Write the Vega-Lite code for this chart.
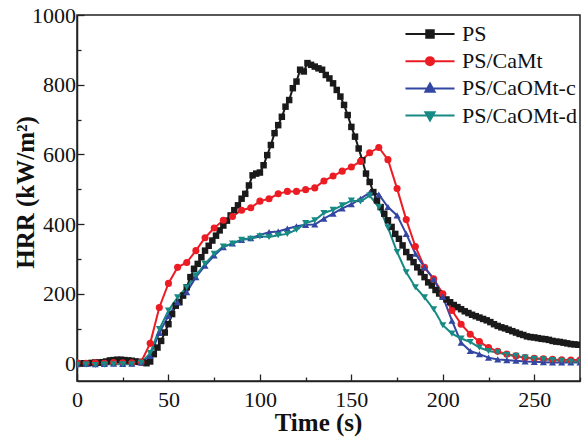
{
  "$schema": "https://vega.github.io/schema/vega-lite/v6.json",
  "autosize": "none",
  "width": 503,
  "height": 366,
  "padding": {"left": 77, "top": 15, "right": 3, "bottom": 58},
  "config": {
    "view": {"stroke": "#222", "strokeWidth": 1.5},
    "font": "Times New Roman",
    "axis": {
      "domainColor": "#222",
      "domainWidth": 1.5,
      "tickColor": "#222",
      "tickWidth": 1.3,
      "grid": false,
      "labelFont": "Times New Roman",
      "labelFontSize": 22,
      "labelColor": "#111",
      "titleFont": "Times New Roman",
      "titleFontSize": 25,
      "titleFontWeight": "bold",
      "titleColor": "#111"
    },
    "legend": {
      "labelFont": "Times New Roman",
      "labelFontSize": 22,
      "labelColor": "#111"
    }
  },
  "data": {
    "values": [
      {"s": "PS", "t": 0, "v": 0}, {"s": "PS", "t": 2, "v": 0}, {"s": "PS", "t": 4, "v": 1}, {"s": "PS", "t": 6, "v": 1},
      {"s": "PS", "t": 8, "v": 2}, {"s": "PS", "t": 10, "v": 3}, {"s": "PS", "t": 12, "v": 3}, {"s": "PS", "t": 14, "v": 4},
      {"s": "PS", "t": 16, "v": 6}, {"s": "PS", "t": 18, "v": 9}, {"s": "PS", "t": 20, "v": 10}, {"s": "PS", "t": 22, "v": 11},
      {"s": "PS", "t": 24, "v": 11}, {"s": "PS", "t": 26, "v": 10}, {"s": "PS", "t": 28, "v": 9}, {"s": "PS", "t": 30, "v": 8},
      {"s": "PS", "t": 32, "v": 6}, {"s": "PS", "t": 34, "v": 5}, {"s": "PS", "t": 36, "v": 3}, {"s": "PS", "t": 38, "v": 1},
      {"s": "PS", "t": 40, "v": 6}, {"s": "PS", "t": 42, "v": 27}, {"s": "PS", "t": 44, "v": 46}, {"s": "PS", "t": 46, "v": 65},
      {"s": "PS", "t": 48, "v": 89}, {"s": "PS", "t": 50, "v": 113}, {"s": "PS", "t": 52, "v": 142}, {"s": "PS", "t": 54, "v": 166},
      {"s": "PS", "t": 56, "v": 176}, {"s": "PS", "t": 58, "v": 195}, {"s": "PS", "t": 60, "v": 219}, {"s": "PS", "t": 62, "v": 248},
      {"s": "PS", "t": 64, "v": 272}, {"s": "PS", "t": 66, "v": 286}, {"s": "PS", "t": 68, "v": 305}, {"s": "PS", "t": 70, "v": 324},
      {"s": "PS", "t": 72, "v": 338}, {"s": "PS", "t": 74, "v": 353}, {"s": "PS", "t": 76, "v": 367}, {"s": "PS", "t": 78, "v": 382},
      {"s": "PS", "t": 80, "v": 396}, {"s": "PS", "t": 82, "v": 410}, {"s": "PS", "t": 84, "v": 425}, {"s": "PS", "t": 86, "v": 440},
      {"s": "PS", "t": 88, "v": 454}, {"s": "PS", "t": 90, "v": 473}, {"s": "PS", "t": 92, "v": 487}, {"s": "PS", "t": 94, "v": 511},
      {"s": "PS", "t": 96, "v": 540}, {"s": "PS", "t": 98, "v": 545}, {"s": "PS", "t": 100, "v": 548}, {"s": "PS", "t": 102, "v": 569},
      {"s": "PS", "t": 104, "v": 598}, {"s": "PS", "t": 106, "v": 627}, {"s": "PS", "t": 108, "v": 661}, {"s": "PS", "t": 110, "v": 684},
      {"s": "PS", "t": 112, "v": 708}, {"s": "PS", "t": 114, "v": 737}, {"s": "PS", "t": 116, "v": 756}, {"s": "PS", "t": 118, "v": 790},
      {"s": "PS", "t": 120, "v": 809}, {"s": "PS", "t": 122, "v": 843}, {"s": "PS", "t": 124, "v": 838}, {"s": "PS", "t": 126, "v": 862},
      {"s": "PS", "t": 128, "v": 857}, {"s": "PS", "t": 130, "v": 852}, {"s": "PS", "t": 132, "v": 847}, {"s": "PS", "t": 134, "v": 843},
      {"s": "PS", "t": 136, "v": 828}, {"s": "PS", "t": 138, "v": 818}, {"s": "PS", "t": 140, "v": 804}, {"s": "PS", "t": 142, "v": 785},
      {"s": "PS", "t": 144, "v": 766}, {"s": "PS", "t": 146, "v": 742}, {"s": "PS", "t": 148, "v": 713}, {"s": "PS", "t": 150, "v": 679},
      {"s": "PS", "t": 152, "v": 651}, {"s": "PS", "t": 154, "v": 617}, {"s": "PS", "t": 156, "v": 583}, {"s": "PS", "t": 158, "v": 545},
      {"s": "PS", "t": 160, "v": 521}, {"s": "PS", "t": 162, "v": 492}, {"s": "PS", "t": 164, "v": 468}, {"s": "PS", "t": 166, "v": 449},
      {"s": "PS", "t": 168, "v": 430}, {"s": "PS", "t": 170, "v": 411}, {"s": "PS", "t": 172, "v": 392}, {"s": "PS", "t": 174, "v": 372},
      {"s": "PS", "t": 176, "v": 358}, {"s": "PS", "t": 178, "v": 339}, {"s": "PS", "t": 180, "v": 320}, {"s": "PS", "t": 182, "v": 305},
      {"s": "PS", "t": 184, "v": 291}, {"s": "PS", "t": 186, "v": 276}, {"s": "PS", "t": 188, "v": 262}, {"s": "PS", "t": 190, "v": 248},
      {"s": "PS", "t": 192, "v": 233}, {"s": "PS", "t": 194, "v": 224}, {"s": "PS", "t": 196, "v": 211}, {"s": "PS", "t": 198, "v": 201},
      {"s": "PS", "t": 200, "v": 192}, {"s": "PS", "t": 202, "v": 184}, {"s": "PS", "t": 204, "v": 176}, {"s": "PS", "t": 206, "v": 168},
      {"s": "PS", "t": 208, "v": 162}, {"s": "PS", "t": 210, "v": 156}, {"s": "PS", "t": 212, "v": 150}, {"s": "PS", "t": 214, "v": 145},
      {"s": "PS", "t": 216, "v": 140}, {"s": "PS", "t": 218, "v": 136}, {"s": "PS", "t": 220, "v": 132}, {"s": "PS", "t": 222, "v": 128},
      {"s": "PS", "t": 224, "v": 124}, {"s": "PS", "t": 226, "v": 119}, {"s": "PS", "t": 228, "v": 113}, {"s": "PS", "t": 230, "v": 108},
      {"s": "PS", "t": 232, "v": 104}, {"s": "PS", "t": 234, "v": 101}, {"s": "PS", "t": 236, "v": 97}, {"s": "PS", "t": 238, "v": 93},
      {"s": "PS", "t": 240, "v": 89}, {"s": "PS", "t": 242, "v": 85}, {"s": "PS", "t": 244, "v": 82}, {"s": "PS", "t": 246, "v": 78},
      {"s": "PS", "t": 248, "v": 76}, {"s": "PS", "t": 250, "v": 75}, {"s": "PS", "t": 252, "v": 73}, {"s": "PS", "t": 254, "v": 71},
      {"s": "PS", "t": 256, "v": 70}, {"s": "PS", "t": 258, "v": 68}, {"s": "PS", "t": 260, "v": 65}, {"s": "PS", "t": 262, "v": 63},
      {"s": "PS", "t": 264, "v": 62}, {"s": "PS", "t": 266, "v": 60}, {"s": "PS", "t": 268, "v": 58}, {"s": "PS", "t": 270, "v": 56},
      {"s": "PS", "t": 272, "v": 55}, {"s": "PS", "t": 274, "v": 54},

      {"s": "PS/CaMt", "t": 0, "v": 2}, {"s": "PS/CaMt", "t": 5, "v": 1}, {"s": "PS/CaMt", "t": 10, "v": 2}, {"s": "PS/CaMt", "t": 15, "v": 1},
      {"s": "PS/CaMt", "t": 20, "v": 3}, {"s": "PS/CaMt", "t": 25, "v": 2}, {"s": "PS/CaMt", "t": 30, "v": 2}, {"s": "PS/CaMt", "t": 35, "v": 4},
      {"s": "PS/CaMt", "t": 40, "v": 58}, {"s": "PS/CaMt", "t": 45, "v": 161}, {"s": "PS/CaMt", "t": 50, "v": 230}, {"s": "PS/CaMt", "t": 55, "v": 276},
      {"s": "PS/CaMt", "t": 60, "v": 290}, {"s": "PS/CaMt", "t": 65, "v": 324}, {"s": "PS/CaMt", "t": 70, "v": 361}, {"s": "PS/CaMt", "t": 75, "v": 389},
      {"s": "PS/CaMt", "t": 80, "v": 411}, {"s": "PS/CaMt", "t": 85, "v": 422}, {"s": "PS/CaMt", "t": 90, "v": 440}, {"s": "PS/CaMt", "t": 95, "v": 447},
      {"s": "PS/CaMt", "t": 100, "v": 466}, {"s": "PS/CaMt", "t": 105, "v": 473}, {"s": "PS/CaMt", "t": 110, "v": 487}, {"s": "PS/CaMt", "t": 115, "v": 494},
      {"s": "PS/CaMt", "t": 120, "v": 494}, {"s": "PS/CaMt", "t": 125, "v": 499}, {"s": "PS/CaMt", "t": 130, "v": 504}, {"s": "PS/CaMt", "t": 135, "v": 524},
      {"s": "PS/CaMt", "t": 140, "v": 538}, {"s": "PS/CaMt", "t": 145, "v": 552}, {"s": "PS/CaMt", "t": 150, "v": 564}, {"s": "PS/CaMt", "t": 155, "v": 580},
      {"s": "PS/CaMt", "t": 160, "v": 605}, {"s": "PS/CaMt", "t": 165, "v": 620}, {"s": "PS/CaMt", "t": 170, "v": 585}, {"s": "PS/CaMt", "t": 175, "v": 502},
      {"s": "PS/CaMt", "t": 180, "v": 413}, {"s": "PS/CaMt", "t": 185, "v": 336}, {"s": "PS/CaMt", "t": 190, "v": 276}, {"s": "PS/CaMt", "t": 195, "v": 243},
      {"s": "PS/CaMt", "t": 200, "v": 200}, {"s": "PS/CaMt", "t": 205, "v": 152}, {"s": "PS/CaMt", "t": 210, "v": 113}, {"s": "PS/CaMt", "t": 215, "v": 84},
      {"s": "PS/CaMt", "t": 220, "v": 63}, {"s": "PS/CaMt", "t": 225, "v": 46}, {"s": "PS/CaMt", "t": 230, "v": 35}, {"s": "PS/CaMt", "t": 235, "v": 27},
      {"s": "PS/CaMt", "t": 240, "v": 22}, {"s": "PS/CaMt", "t": 245, "v": 17}, {"s": "PS/CaMt", "t": 250, "v": 15}, {"s": "PS/CaMt", "t": 255, "v": 14},
      {"s": "PS/CaMt", "t": 260, "v": 12}, {"s": "PS/CaMt", "t": 265, "v": 11}, {"s": "PS/CaMt", "t": 270, "v": 10}, {"s": "PS/CaMt", "t": 275, "v": 10},

      {"s": "PS/CaOMt-c", "t": 0, "v": -2}, {"s": "PS/CaOMt-c", "t": 5, "v": -1}, {"s": "PS/CaOMt-c", "t": 10, "v": -2}, {"s": "PS/CaOMt-c", "t": 15, "v": -1},
      {"s": "PS/CaOMt-c", "t": 20, "v": 0}, {"s": "PS/CaOMt-c", "t": 25, "v": -1}, {"s": "PS/CaOMt-c", "t": 30, "v": 0}, {"s": "PS/CaOMt-c", "t": 35, "v": 3},
      {"s": "PS/CaOMt-c", "t": 40, "v": 22}, {"s": "PS/CaOMt-c", "t": 45, "v": 88}, {"s": "PS/CaOMt-c", "t": 50, "v": 137}, {"s": "PS/CaOMt-c", "t": 55, "v": 176},
      {"s": "PS/CaOMt-c", "t": 60, "v": 205}, {"s": "PS/CaOMt-c", "t": 65, "v": 248}, {"s": "PS/CaOMt-c", "t": 70, "v": 281}, {"s": "PS/CaOMt-c", "t": 75, "v": 310},
      {"s": "PS/CaOMt-c", "t": 80, "v": 334}, {"s": "PS/CaOMt-c", "t": 85, "v": 345}, {"s": "PS/CaOMt-c", "t": 90, "v": 355}, {"s": "PS/CaOMt-c", "t": 95, "v": 360},
      {"s": "PS/CaOMt-c", "t": 100, "v": 369}, {"s": "PS/CaOMt-c", "t": 105, "v": 377}, {"s": "PS/CaOMt-c", "t": 110, "v": 379}, {"s": "PS/CaOMt-c", "t": 115, "v": 387},
      {"s": "PS/CaOMt-c", "t": 120, "v": 394}, {"s": "PS/CaOMt-c", "t": 125, "v": 398}, {"s": "PS/CaOMt-c", "t": 130, "v": 399}, {"s": "PS/CaOMt-c", "t": 135, "v": 416},
      {"s": "PS/CaOMt-c", "t": 140, "v": 430}, {"s": "PS/CaOMt-c", "t": 145, "v": 445}, {"s": "PS/CaOMt-c", "t": 150, "v": 457}, {"s": "PS/CaOMt-c", "t": 155, "v": 473},
      {"s": "PS/CaOMt-c", "t": 160, "v": 490}, {"s": "PS/CaOMt-c", "t": 165, "v": 485}, {"s": "PS/CaOMt-c", "t": 170, "v": 449}, {"s": "PS/CaOMt-c", "t": 175, "v": 425},
      {"s": "PS/CaOMt-c", "t": 180, "v": 372}, {"s": "PS/CaOMt-c", "t": 185, "v": 315}, {"s": "PS/CaOMt-c", "t": 190, "v": 276}, {"s": "PS/CaOMt-c", "t": 195, "v": 243},
      {"s": "PS/CaOMt-c", "t": 200, "v": 192}, {"s": "PS/CaOMt-c", "t": 205, "v": 123}, {"s": "PS/CaOMt-c", "t": 210, "v": 60}, {"s": "PS/CaOMt-c", "t": 215, "v": 36},
      {"s": "PS/CaOMt-c", "t": 220, "v": 27}, {"s": "PS/CaOMt-c", "t": 225, "v": 17}, {"s": "PS/CaOMt-c", "t": 230, "v": 12}, {"s": "PS/CaOMt-c", "t": 235, "v": 10},
      {"s": "PS/CaOMt-c", "t": 240, "v": 8}, {"s": "PS/CaOMt-c", "t": 245, "v": 6}, {"s": "PS/CaOMt-c", "t": 250, "v": 5}, {"s": "PS/CaOMt-c", "t": 255, "v": 4},
      {"s": "PS/CaOMt-c", "t": 260, "v": 3}, {"s": "PS/CaOMt-c", "t": 265, "v": 3}, {"s": "PS/CaOMt-c", "t": 270, "v": 3}, {"s": "PS/CaOMt-c", "t": 275, "v": 3},

      {"s": "PS/CaOMt-d", "t": 0, "v": -4}, {"s": "PS/CaOMt-d", "t": 5, "v": -3}, {"s": "PS/CaOMt-d", "t": 10, "v": -4}, {"s": "PS/CaOMt-d", "t": 15, "v": -3},
      {"s": "PS/CaOMt-d", "t": 20, "v": -2}, {"s": "PS/CaOMt-d", "t": 25, "v": -2}, {"s": "PS/CaOMt-d", "t": 30, "v": -2}, {"s": "PS/CaOMt-d", "t": 35, "v": 2},
      {"s": "PS/CaOMt-d", "t": 40, "v": 30}, {"s": "PS/CaOMt-d", "t": 45, "v": 99}, {"s": "PS/CaOMt-d", "t": 50, "v": 152}, {"s": "PS/CaOMt-d", "t": 55, "v": 190},
      {"s": "PS/CaOMt-d", "t": 60, "v": 219}, {"s": "PS/CaOMt-d", "t": 65, "v": 253}, {"s": "PS/CaOMt-d", "t": 70, "v": 286}, {"s": "PS/CaOMt-d", "t": 75, "v": 315},
      {"s": "PS/CaOMt-d", "t": 80, "v": 336}, {"s": "PS/CaOMt-d", "t": 85, "v": 344}, {"s": "PS/CaOMt-d", "t": 90, "v": 355}, {"s": "PS/CaOMt-d", "t": 95, "v": 358},
      {"s": "PS/CaOMt-d", "t": 100, "v": 365}, {"s": "PS/CaOMt-d", "t": 105, "v": 363}, {"s": "PS/CaOMt-d", "t": 110, "v": 368}, {"s": "PS/CaOMt-d", "t": 115, "v": 372},
      {"s": "PS/CaOMt-d", "t": 120, "v": 384}, {"s": "PS/CaOMt-d", "t": 125, "v": 403}, {"s": "PS/CaOMt-d", "t": 130, "v": 411}, {"s": "PS/CaOMt-d", "t": 135, "v": 432},
      {"s": "PS/CaOMt-d", "t": 140, "v": 441}, {"s": "PS/CaOMt-d", "t": 145, "v": 454}, {"s": "PS/CaOMt-d", "t": 150, "v": 468}, {"s": "PS/CaOMt-d", "t": 155, "v": 465},
      {"s": "PS/CaOMt-d", "t": 160, "v": 482}, {"s": "PS/CaOMt-d", "t": 165, "v": 449}, {"s": "PS/CaOMt-d", "t": 170, "v": 390}, {"s": "PS/CaOMt-d", "t": 175, "v": 320},
      {"s": "PS/CaOMt-d", "t": 180, "v": 262}, {"s": "PS/CaOMt-d", "t": 185, "v": 219}, {"s": "PS/CaOMt-d", "t": 190, "v": 190}, {"s": "PS/CaOMt-d", "t": 195, "v": 156},
      {"s": "PS/CaOMt-d", "t": 200, "v": 110}, {"s": "PS/CaOMt-d", "t": 205, "v": 86}, {"s": "PS/CaOMt-d", "t": 210, "v": 72}, {"s": "PS/CaOMt-d", "t": 215, "v": 62},
      {"s": "PS/CaOMt-d", "t": 220, "v": 46}, {"s": "PS/CaOMt-d", "t": 225, "v": 36}, {"s": "PS/CaOMt-d", "t": 230, "v": 32}, {"s": "PS/CaOMt-d", "t": 235, "v": 25},
      {"s": "PS/CaOMt-d", "t": 240, "v": 22}, {"s": "PS/CaOMt-d", "t": 245, "v": 17}, {"s": "PS/CaOMt-d", "t": 250, "v": 14}, {"s": "PS/CaOMt-d", "t": 255, "v": 12},
      {"s": "PS/CaOMt-d", "t": 260, "v": 10}, {"s": "PS/CaOMt-d", "t": 265, "v": 8}, {"s": "PS/CaOMt-d", "t": 270, "v": 6}, {"s": "PS/CaOMt-d", "t": 275, "v": 6}
    ]
  },
  "encoding": {
    "x": {
      "field": "t",
      "type": "quantitative",
      "scale": {"domain": [0, 275], "nice": false, "zero": false},
      "axis": {
        "title": "Time (s)",
        "values": [0, 25, 50, 75, 100, 125, 150, 175, 200, 225, 250, 275],
        "format": "d",
        "labelExpr": "datum.value % 50 === 0 ? datum.label : ''",
        "tickSize": {"condition": {"test": "datum.value % 50 === 0", "value": -7}, "value": -4},
        "labelPadding": 15,
        "labelFlush": false,
        "titleX": 241,
        "titleY": 41,
        "titleBaseline": "middle"
      }
    },
    "y": {
      "field": "v",
      "type": "quantitative",
      "scale": {"domain": [-50, 1000], "nice": false, "zero": false},
      "axis": {
        "title": "HRR (kW/m²)",
        "values": [0, 100, 200, 300, 400, 500, 600, 700, 800, 900, 1000],
        "format": "d",
        "labelExpr": "datum.value % 200 === 0 ? datum.label : ''",
        "tickSize": {"condition": {"test": "datum.value % 200 === 0", "value": -7}, "value": -4},
        "labelPadding": 8.5,
        "labelFlush": false,
        "titleX": -52,
        "titleY": 177,
        "titleBaseline": "middle"
      }
    },
    "color": {
      "field": "s",
      "type": "nominal",
      "scale": {
        "domain": ["PS", "PS/CaMt", "PS/CaOMt-c", "PS/CaOMt-d"],
        "range": ["#1a1a1a", "#ec1c24", "#3346a2", "#178a84"]
      },
      "legend": {
        "title": null,
        "orient": "none",
        "legendX": 341,
        "legendY": 7,
        "padding": 0,
        "symbolSize": 484,
        "symbolStrokeWidth": 2,
        "labelOffset": 20,
        "rowPadding": 4.2,
        "encode": {
          "symbols": {
            "update": {
              "shape": {"signal": "datum.value === 'PS' ? 'M-2.23,0H2.23M-0.34,-0.34H0.34V0.34H-0.34Z' : datum.value === 'PS/CaMt' ? 'M-2.23,0H2.23M-0.37,0A0.37,0.37,0,1,0,0.37,0A0.37,0.37,0,1,0,-0.37,0Z' : datum.value === 'PS/CaOMt-c' ? 'M-2.23,0H2.23M0,-0.45L0.42,0.3L-0.42,0.3Z' : 'M-2.23,0H2.23M0,0.45L0.42,-0.3L-0.42,-0.3Z'"},
              "fill": {"signal": "scale('color', datum.value)"},
              "stroke": {"signal": "scale('color', datum.value)"},
              "fillOpacity": {"value": 1},
              "opacity": {"value": 1}
            }
          }
        }
      }
    }
  },
  "layer": [
    {
      "mark": {"type": "line", "strokeWidth": 2, "clip": true}
    },
    {
      "transform": [{"filter": "datum.s === 'PS'"}],
      "mark": {"type": "point", "shape": "square", "filled": true, "size": 42, "opacity": 1, "clip": true}
    },
    {
      "transform": [{"filter": "datum.s === 'PS/CaMt'"}],
      "mark": {"type": "point", "shape": "circle", "filled": true, "size": 50, "opacity": 1, "clip": true}
    },
    {
      "transform": [{"filter": "datum.s === 'PS/CaOMt-c'"}],
      "mark": {"type": "point", "shape": "triangle-up", "filled": true, "size": 50, "opacity": 1, "clip": true}
    },
    {
      "transform": [{"filter": "datum.s === 'PS/CaOMt-d'"}],
      "mark": {"type": "point", "shape": "triangle-down", "filled": true, "size": 50, "opacity": 1, "clip": true}
    }
  ]
}
